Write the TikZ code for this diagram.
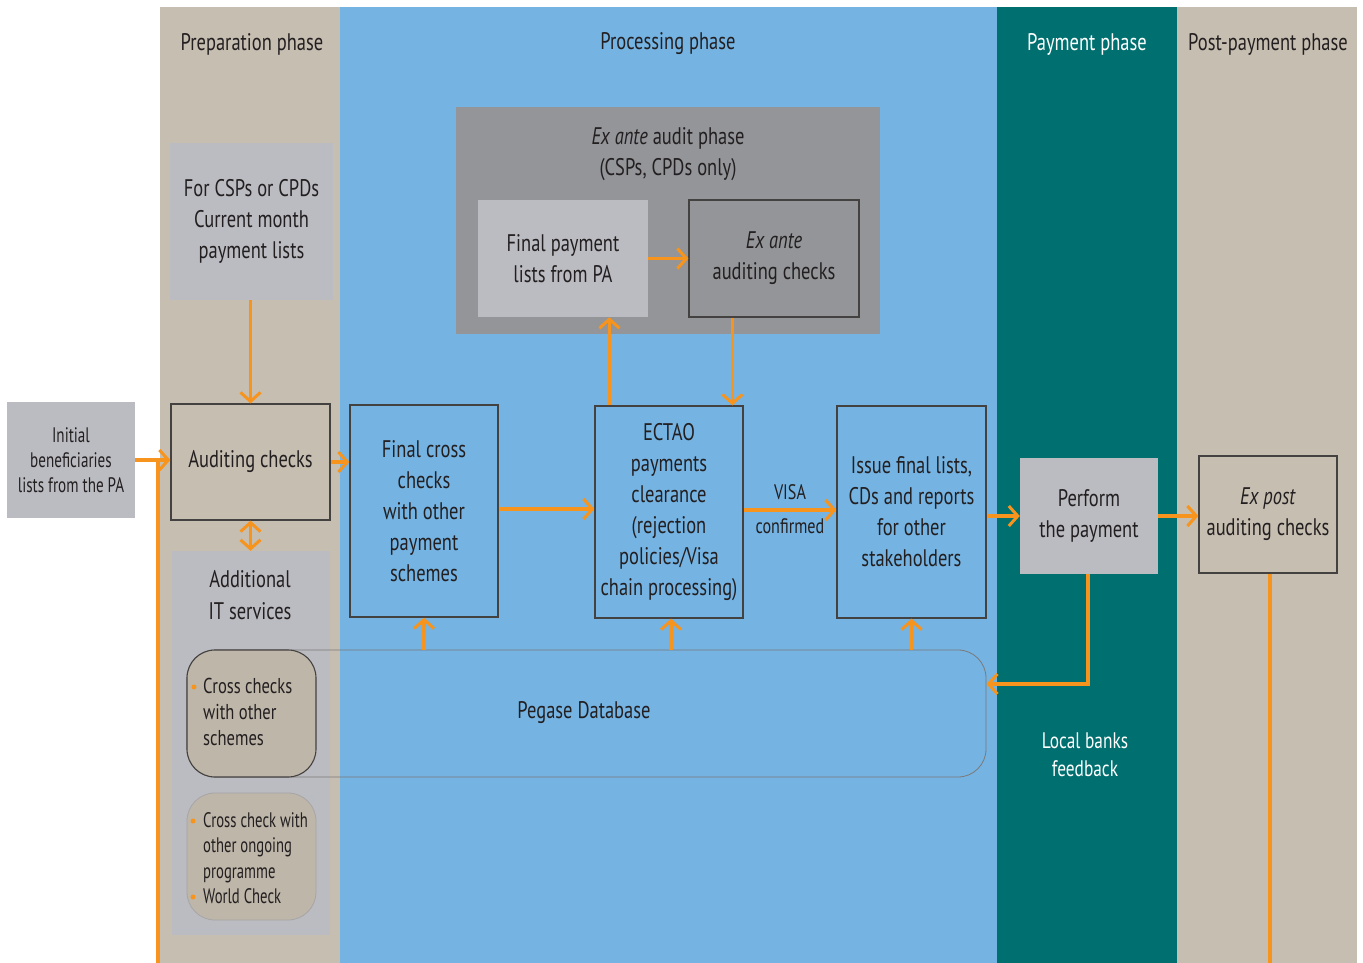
\documentclass[tikz,border=0pt]{standalone}
\usepackage{fontspec}
\setmainfont{PT Sans}[FakeStretch=0.77]
\usetikzlibrary{arrows.meta}
\definecolor{beige}{HTML}{C6BEB1}
\definecolor{pblue}{HTML}{74B3E2}
\definecolor{teal}{HTML}{006F6F}
\definecolor{lgray}{HTML}{BBBCC1}
\definecolor{mgray}{HTML}{939598}
\definecolor{orng}{HTML}{F7941D}
\definecolor{dtxt}{HTML}{231F20}
\definecolor{ccfill}{HTML}{BDB6A9}
\tikzset{
  box/.style={draw=dtxt!85,line width=1.2pt,inner sep=0pt,align=center,text=dtxt,font=\fontsize{24}{31}\selectfont},
  plainbox/.style={inner sep=0pt,align=center,text=dtxt,font=\fontsize{24}{31}\selectfont},
  lbl/.style={inner sep=0pt,align=center,text=dtxt,font=\fontsize{24}{31}\selectfont},
  arr/.style={draw=orng,line width=3.8pt,-{Straight Barb[length=9pt,width=20pt,line width=3pt]}},
  darr/.style={draw=orng,line width=3.8pt,{Straight Barb[length=9pt,width=20pt,line width=3pt]}-{Straight Barb[length=9pt,width=20pt,line width=3pt]}},
  oline/.style={draw=orng,line width=3.8pt},
  bul/.style={circle,fill=orng,inner sep=0pt,minimum size=5pt},
}
\begin{document}
\begin{tikzpicture}[x=1pt,y=-1pt]
\useasboundingbox (0,0) rectangle (1363,963);
\fill[white] (0,0) rectangle (1363,963);
% columns
\fill[beige] (160,7) rectangle (340,963);
\fill[pblue] (340,7) rectangle (997,963);
\fill[teal] (997,7) rectangle (1177,963);
\fill[beige] (1177,7) rectangle (1357,963);
\node[lbl] (hprep) at (252,44) {Preparation phase};
\node[lbl] (hproc) at (668,44) {Processing phase};
\node[lbl,text=white] (hpay) at (1087,44) {Payment phase};
\node[lbl] (hpost) at (1268,44) {Post-payment phase};
% ex ante frame
\node[fill=mgray,minimum width=424pt,minimum height=227pt,inner sep=0pt] (exf) at (668,220.5) {};
\node[lbl] (exft) at (668,154) {\textit{Ex ante} audit phase\\(CSPs, CPDs only)};
\node[plainbox,fill=lgray,minimum width=170pt,minimum height=117pt] (fpl) at (563,258.5) {Final payment\\lists from PA};
\node[box,fill=mgray,minimum width=170pt,minimum height=117pt] (eac) at (774,258.5) {\textit{Ex ante}\\auditing checks};
% preparation
\node[plainbox,fill=lgray,minimum width=128pt,minimum height=116pt,font=\addfontfeature{FakeStretch=0.72}\fontsize{21}{25}\selectfont] (init) at (71,460) {Initial\\beneficiaries\\lists from the PA};
\node[plainbox,fill=lgray,minimum width=163pt,minimum height=157pt] (csp) at (251.5,221.5) {For CSPs or CPDs\\Current month\\payment lists};
\node[box,fill=beige,minimum width=159pt,minimum height=116pt] (aud) at (250.5,462) {Auditing checks};
\node[fill=lgray,minimum width=158pt,minimum height=384pt,inner sep=0pt] (itp) at (251,743) {};
\node[lbl,font=\fontsize{24}{32}\selectfont] (itl) at (250,595) {Additional\\IT services};
% processing boxes
\node[box,fill=pblue,minimum width=148pt,minimum height=212pt] (fc) at (424,511) {Final cross\\checks\\with other\\payment\\schemes};
\node[box,fill=pblue,minimum width=148pt,minimum height=212pt] (ect) at (669,512) {ECTAO\\payments\\clearance\\(rejection\\policies/Visa\\chain processing)};
\node[box,fill=pblue,minimum width=149pt,minimum height=212pt] (iss) at (911.5,512) {Issue final lists,\\CDs and reports\\for other\\stakeholders};
% payment / post
\node[plainbox,fill=lgray,minimum width=138pt,minimum height=116pt] (perf) at (1089,516) {Perform\\the payment};
\node[box,fill=beige,minimum width=138pt,minimum height=117pt] (expost) at (1268,514.5) {\textit{Ex post}\\auditing checks};
\node[lbl,text=white,font=\fontsize{22.5}{28}\selectfont] (lbf) at (1085,755) {Local banks\\feedback};
% pegase
\node[draw=dtxt!60,line width=0.8pt,rounded corners=28pt,minimum width=799pt,minimum height=127pt,inner sep=0pt,lbl] (peg) at (586.5,713.5) {};
\node[lbl] (pegt) at (584,713) {Pegase Database};
\node[draw=dtxt!85,line width=1.1pt,fill=ccfill,rounded corners=28pt,minimum width=129pt,minimum height=127pt,inner sep=0pt] (cc1) at (251.5,713.5) {};
\node[draw=dtxt!40,line width=0.8pt,fill=ccfill,rounded corners=28pt,minimum width=129pt,minimum height=127pt,inner sep=0pt] (cc2) at (251.5,856.5) {};
\node[lbl,align=left,anchor=west,font=\fontsize{21.5}{26}\selectfont] (cc1t) at (203,712) {Cross checks\\with other\\schemes};
\node[bul] (b1) at (194,687) {};
\node[lbl,align=left,anchor=west,font=\addfontfeature{FakeStretch=0.7}\fontsize{21}{25.3}\selectfont] (cc2t) at (203,858) {Cross check with\\other ongoing\\programme\\World Check};
\node[bul] (b2) at (193,821) {};
\node[bul] (b3) at (193,897) {};
% connectors
\coordinate (lb) at (158,963);
\draw[arr] (init.east) -- (init.east -| aud.west);
\draw[oline] (init.east -| lb) -- (lb);
\draw[arr] (csp.south -| aud.north) -- (aud.north);
\draw[arr] (aud.east) -- (aud.east -| fc.west);
\draw[darr] (aud.south) -- (aud.south |- itp.north);
\draw[arr] ([yshift=2pt]fc.east) -- ([yshift=2pt]fc.east -| ect.west);
\draw[arr] ([yshift=2pt]ect.east) -- ([yshift=2pt]ect.east -| iss.west) node[lbl,midway,above=8pt,font=\fontsize{21}{22}\selectfont] (visa) {VISA} node[lbl,midway,below=7pt,font=\fontsize{21}{22}\selectfont] (conf) {confirmed};
\draw[arr] (perf.west -| iss.east) -- (perf.west);
\draw[arr] (perf.east) -- (perf.east -| expost.west);
\draw[arr] (fpl.east) -- (eac.west);
\draw[arr] ([xshift=15pt]ect.north west) -- ([xshift=15pt]ect.north west |- fpl.south);
\draw[arr] ([xshift=44pt]eac.south west) -- ([xshift=44pt]eac.south west |- ect.north);
\draw[arr] (peg.north -| fc.south) -- (fc.south);
\draw[arr] ([xshift=2pt]peg.north -| ect.south) -- ([xshift=2pt]ect.south);
\draw[arr] (peg.north -| iss.south) -- (iss.south);
\coordinate (pf) at (1088,684);
\draw[arr] (perf.south -| pf) -- (pf) -- (pf -| peg.east);
\coordinate (eb) at (1270,963);
\draw[oline] (expost.south -| eb) -- (eb);
\end{tikzpicture}
\end{document}
